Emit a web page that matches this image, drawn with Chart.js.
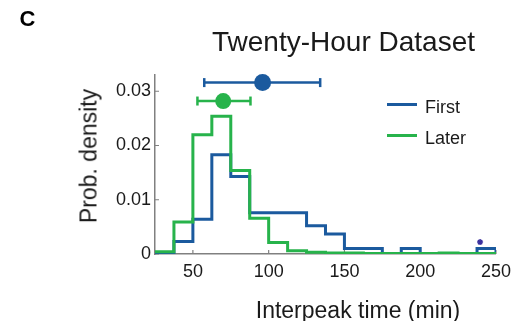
<!DOCTYPE html>
<html lang="en">
<head>
<meta charset="UTF-8">
<title>Twenty-Hour Dataset</title>
<script src="https://cdn.jsdelivr.net/npm/chart.js"></script>
<style>
  body { margin: 0; background: #fff; font-family: 'Liberation Sans', Arial, sans-serif; }
  #wrap { position: relative; width: 518px; height: 321px; overflow: hidden; }
  .txt { position: absolute; line-height: 1; color: #1a1a1a; white-space: nowrap; }
  #panel { left: 19.5px; top: 8px; font-size: 22px; font-weight: bold; color: #000; }
  #title { left: 343.5px; top: 28px; font-size: 28px; transform: translateX(-50%); }
  #xTitle { left: 358px; top: 299px; font-size: 23px; transform: translateX(-50%); }
  #yTitle { left: 89px; top: 155.5px; font-size: 23px; transform: translate(-50%, -50%) rotate(-90deg); }
  .leg { position: absolute; left: 387px; height: 18px; font-size: 18px; line-height: 18px; color: #1a1a1a; }
  .leg .sw { position: absolute; left: 0; top: 4.5px; width: 30px; height: 3px; }
  .leg .lab { position: absolute; left: 38px; top: 0; white-space: nowrap; }
</style>
</head>
<body>
<div id="wrap">
  <canvas id="chart" width="518" height="321"></canvas>
  <div class="txt" id="panel">C</div>
  <div class="txt" id="title">Twenty-Hour Dataset</div>
  <div class="txt" id="xTitle">Interpeak time (min)</div>
  <div class="txt" id="yTitle">Prob. density</div>
  <div id="legend"></div>
</div>
<script>
// histogram bins (left edges, last value closes the final bin)
const binEdges = [25, 37.5, 50, 62.5, 75, 87.5, 100, 112.5, 125, 137.5, 150, 162.5, 175, 187.5, 200, 212.5, 225, 237.5, 250];
const firstDensity = [0.0002, 0.0023, 0.0064, 0.0183, 0.0143, 0.0076, 0.0076, 0.0076, 0.0052, 0.0037, 0.001, 0.001, 0, 0.001, 0, 0, 0, 0.001];
const laterDensity = [0.0004, 0.0059, 0.022, 0.0254, 0.0154, 0.0066, 0.0021, 0.0006, 0.0003, 0.0002, 0.0002, 0.0001, 0.0001, 0.0001, 0.0001, 0.0002, 0.0001, 0.0001];

// mean +/- spread markers above the histograms
const firstMean = 96, firstLow = 57.5, firstHigh = 134, firstLevel = 0.0316;
const laterMean = 70, laterLow = 53, laterHigh = 88, laterLevel = 0.0282;

// significance star on the last bin
const starX = [239.5];
const starY = [0.0022];

const xTicks = [50, 100, 150, 200, 250];
const yTicks = [0, 0.01, 0.02, 0.03];
const seriesNames = ['First', 'Later'];

const blue = '#1b5a9e';
const green = '#27b34b';
const axisGray = '#808080';

function steps(vals) {
  return binEdges.map((x, i) => ({ x: x, y: i < vals.length ? vals[i] : 0 }));
}

// legend
const colors = [blue, green];
const legend = document.getElementById('legend');
seriesNames.forEach((name, i) => {
  const d = document.createElement('div');
  d.className = 'leg';
  d.style.top = (98 + i * 31) + 'px';
  d.innerHTML = '<span class="sw" style="background:' + colors[i] + '"></span><span class="lab">' + name + '</span>';
  legend.appendChild(d);
});

// small inward tick marks like the original axes
const inwardTicks = {
  id: 'inwardTicks',
  beforeDatasetsDraw(chart) {
    const { ctx, scales: { x, y }, chartArea: a } = chart;
    ctx.save();
    ctx.strokeStyle = axisGray;
    ctx.lineWidth = 1.2;
    ctx.beginPath();
    xTicks.forEach(v => {
      const px = x.getPixelForValue(v);
      ctx.moveTo(px, a.bottom);
      ctx.lineTo(px, a.bottom - 4);
    });
    yTicks.forEach(v => {
      const py = y.getPixelForValue(v);
      ctx.moveTo(a.left, py);
      ctx.lineTo(a.left + 4, py);
    });
    ctx.stroke();
    ctx.restore();
  }
};

const tickFont = { family: "'Liberation Sans', Arial, sans-serif", size: 18 };

new Chart(document.getElementById('chart'), {
  type: 'line',
  data: {
    datasets: [
      {
        label: seriesNames[0], data: steps(firstDensity), borderColor: blue, borderWidth: 3,
        stepped: 'before', pointRadius: 0, fill: false, order: 3
      },
      {
        label: seriesNames[1], data: steps(laterDensity), borderColor: green, borderWidth: 3,
        stepped: 'before', pointRadius: 0, fill: false, order: 2
      },
      {
        label: 'First spread', data: [{ x: firstLow, y: firstLevel }, { x: firstHigh, y: firstLevel }],
        borderColor: blue, borderWidth: 2.5, pointStyle: 'line', pointRotation: 90, pointRadius: 4.5,
        pointBorderColor: blue, pointBorderWidth: 2.5, clip: false, order: 1
      },
      {
        label: 'Later spread', data: [{ x: laterLow, y: laterLevel }, { x: laterHigh, y: laterLevel }],
        borderColor: green, borderWidth: 2.5, pointStyle: 'line', pointRotation: 90, pointRadius: 4.5,
        pointBorderColor: green, pointBorderWidth: 2.5, clip: false, order: 1
      },
      {
        type: 'scatter', label: 'First mean', data: [{ x: firstMean, y: firstLevel }],
        backgroundColor: blue, pointRadius: 8.5, borderWidth: 0, clip: false, order: 0
      },
      {
        type: 'scatter', label: 'Later mean', data: [{ x: laterMean, y: laterLevel }],
        backgroundColor: green, pointRadius: 8, borderWidth: 0, clip: false, order: 0
      },
      {
        type: 'scatter', label: 'star', data: starX.map((x, i) => ({ x: x, y: starY[i] })),
        pointStyle: 'star', pointRadius: 3, borderColor: '#3a2f9e', borderWidth: 1.5, clip: false, order: 0
      }
    ]
  },
  options: {
    responsive: false,
    animation: false,
    events: [],
    layout: { padding: { left: 0, top: 75, right: 20, bottom: 0 } },
    plugins: { legend: { display: false }, tooltip: { enabled: false }, title: { display: false } },
    scales: {
      x: {
        type: 'linear', min: 25, max: 250,
        afterBuildTicks: s => { s.ticks = xTicks.map(v => ({ value: v })); },
        afterFit: s => { s.height = 67; },
        grid: { display: false, drawTicks: false },
        border: { color: axisGray, width: 1.5 },
        ticks: { font: tickFont, color: '#1a1a1a', padding: 7, maxRotation: 0, autoSkip: false, callback: v => String(v) }
      },
      y: {
        type: 'linear', min: 0, max: 0.033,
        afterBuildTicks: s => { s.ticks = yTicks.map(v => ({ value: v })); },
        afterFit: s => { s.width = 155; },
        grid: { display: false, drawTicks: false },
        border: { color: axisGray, width: 1.5 },
        ticks: { font: tickFont, color: '#1a1a1a', padding: 4, callback: v => v === 0 ? '0' : v.toFixed(2) }
      }
    }
  },
  plugins: [inwardTicks]
});
</script>
</body>
</html>
